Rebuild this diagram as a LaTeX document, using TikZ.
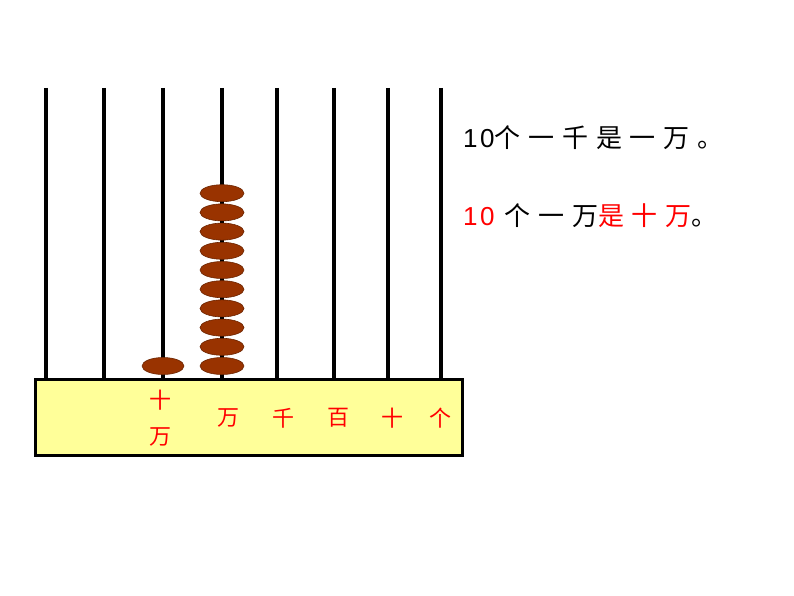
\documentclass[tikz,border=0pt]{standalone}
\usepackage{fontspec}
\usetikzlibrary{shapes.geometric}
\newfontfamily\cjk[LetterSpace=30]{Noto Sans CJK SC}
\newfontfamily\cjklab{Noto Sans CJK SC}
\newfontfamily\latn[LetterSpace=10]{Liberation Sans}
\setmainfont{Liberation Sans}
\definecolor{bead}{HTML}{993300}
\definecolor{base}{HTML}{FFFF99}
\begin{document}
\begin{tikzpicture}[x=1pt,y=-1pt,
  rod/.style={line width=3.5pt},
  beadst/.style={ellipse, fill=bead, draw=bead!70!black, line width=0.6pt, minimum width=44pt, minimum height=17pt, inner sep=0pt},
  lab/.style={text=red, font=\cjklab\fontsize{22}{22}\selectfont, inner sep=0pt},
  txt/.style={anchor=west, font=\cjk\fontsize{26}{30}\selectfont, inner sep=0pt}]
\useasboundingbox (0,0) rectangle (794,596);
\foreach \x [count=\i] in {46,104,163,222,277,334,388,441}
  \draw[rod] (\x,88) coordinate (t\i) -- (\x,378) coordinate (b\i);
\node[draw, line width=3pt, fill=base, minimum width=427pt, minimum height=76pt, anchor=north west, inner sep=0pt] (box) at (34,378) {};
\node[beadst, minimum width=42pt] (s1) at (163,366) {};
\foreach \k in {0,...,9}
  \node[beadst] (m\k) at (222,{366-\k*19.2}) {};
\node[lab] (l1) at (160,400) {十};
\node[lab] (l2) at (160,437) {万};
\node[lab] (l3) at (228,418) {万};
\node[lab] (l4) at (283,418) {千};
\node[lab] (l5) at (338,418) {百};
\node[lab] (l6) at (392,418) {十};
\node[lab] (l7) at (440,418) {个};
\node[txt] (r1) at (463,138) {{\latn 10}个一千是一万。};
\node[txt] (r2) at (463,216) {\textcolor{red}{\latn 10 }个一万\textcolor{red}{是十万}。};
\end{tikzpicture}
\end{document}
